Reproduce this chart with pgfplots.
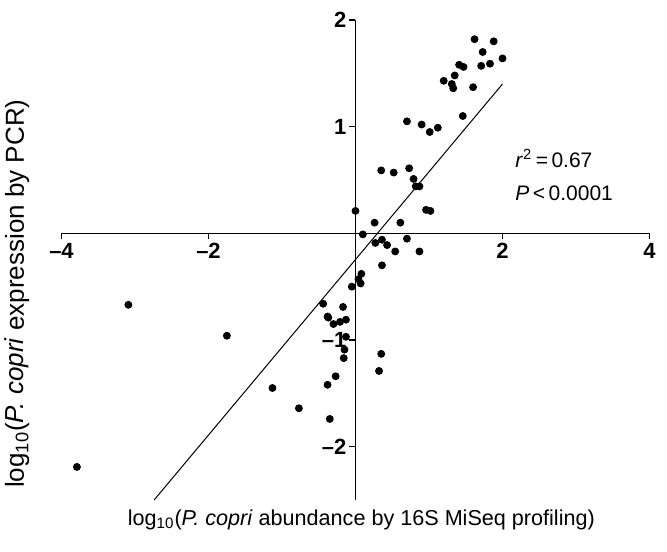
\documentclass[border=0pt]{standalone}
\usepackage{fontspec}
\setmainfont{Liberation Sans}
\usepackage{pgfplots}
\pgfplotsset{compat=1.18}

\pgfplotstableread{
x y
1.62 1.82
1.88 1.80
1.73 1.70
2.00 1.64
1.83 1.59
1.71 1.57
1.41 1.58
1.47 1.56
1.20 1.43
1.35 1.48
1.31 1.40
1.33 1.36
1.60 1.37
1.46 1.10
0.70 1.05
0.90 1.02
1.12 0.99
1.01 0.95
0.35 0.59
0.52 0.57
0.73 0.61
0.79 0.51
0.82 0.44
0.87 0.44
0.00 0.21
0.96 0.22
1.02 0.21
0.26 0.10
0.61 0.10
0.10 -0.01
0.36 -0.06
0.70 -0.05
0.27 -0.09
0.43 -0.11
0.54 -0.17
0.87 -0.17
0.36 -0.30
0.08 -0.38
0.04 -0.43
0.07 -0.47
-0.05 -0.50
-3.09 -0.67
-0.44 -0.66
-0.17 -0.69
-0.38 -0.78
-0.37 -0.79
-0.30 -0.85
-0.21 -0.83
-0.13 -0.81
-1.75 -0.96
-0.13 -0.97
-0.15 -1.09
-0.16 -1.17
0.35 -1.13
0.32 -1.29
-0.27 -1.34
-0.38 -1.42
-1.13 -1.45
-0.77 -1.64
-0.35 -1.74
-3.79 -2.19
}\pcopri

\begin{document}
\begin{tikzpicture}
\begin{axis}[
    width=294pt, height=240pt, scale only axis,
    xmin=-4, xmax=4, ymin=-2.5, ymax=2,
    axis lines=middle,
    axis line style={line width=0.8pt, -},
    clip=false,
    xtick={-4,-2,2,4}, xticklabels={–4,–2,2,4},
    ytick={-2,-1,1,2}, yticklabels={–2,–1,1,2},
    tick align=outside,
    major tick length=3pt,
    tick style={line width=0.8pt, black},
    ticklabel style={font=\bfseries\fontsize{11}{13}\selectfont},
    xticklabel style={yshift=1.5pt},
    yticklabel style={xshift=2pt},
    xlabel={log\textsubscript{10}(\textit{P. copri} abundance by 16S MiSeq profiling)},
    ylabel={log\textsubscript{10}(\textit{P. copri} expression by PCR)},
    xlabel style={at={(axis description cs:0.51,-0.019)}, anchor=north, inner sep=0pt,
        font=\fontsize{10.8}{12}\selectfont},
    ylabel style={at={(axis description cs:-0.054,0.43)}, anchor=south, rotate=90, inner sep=0pt,
        font=\fontsize{13}{15}\selectfont},
]
\addplot[only marks, mark=*, mark size=1.75pt, black] table {\pcopri};
\addplot[no marks, black, line width=0.5pt] coordinates {(-2.74,-2.50) (2.00,1.40)};
\node[anchor=west, inner sep=0pt, font=\fontsize{10.5}{12}\selectfont] at (axis cs:2.17,0.70)
    {\textit{r}\textsuperscript{2}\,=\,0.67};
\node[anchor=west, inner sep=0pt, font=\fontsize{10.5}{12}\selectfont] at (axis cs:2.17,0.38)
    {\textit{P}\,<\,0.0001};
\coordinate (ll) at (axis cs:-4,-2.5);
\coordinate (ur) at (axis cs:4,2);
\end{axis}
\pgfresetboundingbox
\path ([shift={(-30.75pt,-25.5pt)}]ll) rectangle ([shift={(8.75pt,10pt)}]ur);
\end{tikzpicture}
\end{document}
